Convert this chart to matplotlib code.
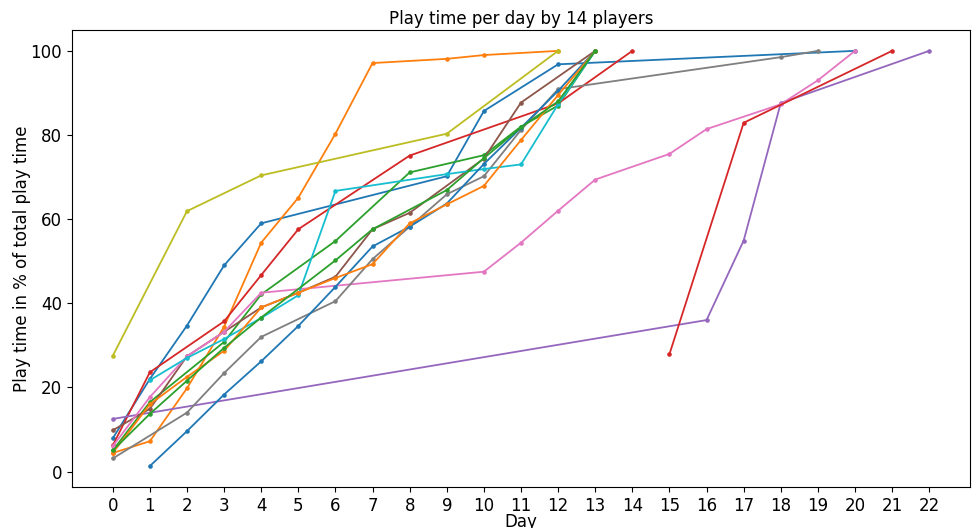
import matplotlib
matplotlib.use("Agg")
import matplotlib.pyplot as plt

# (days, cumulative % of play time) per player, in plotting order
p1_days = [0, 1, 2, 3, 4, 9, 10, 12, 20]
p1_vals = [7.9, 22.0, 34.7, 49.0, 59.0, 70.2, 85.7, 96.8, 100]
p2_days = [0, 1, 2, 3, 4, 5, 6, 7, 9, 10, 12]
p2_vals = [4.4, 7.2, 19.8, 34.4, 54.4, 65.1, 80.3, 97.1, 98.1, 99.0, 100]
p3_days = [0, 1, 3, 4, 6, 8, 10, 11, 12, 13]
p3_vals = [5.0, 16.5, 30.8, 42.1, 54.8, 71.1, 75.2, 82.0, 87.0, 100]
p4_days = [0, 1, 3, 4, 5, 8, 12, 14]
p4_vals = [6.2, 23.6, 35.7, 46.7, 57.6, 75.1, 87.5, 100]
p5_days = [0, 16, 17, 18, 22]
p5_vals = [12.5, 36.0, 54.9, 87.6, 100]
p6_days = [0, 1, 2, 3, 4, 5, 6, 7, 8, 10, 11, 13]
p6_vals = [9.8, 14.9, 27.4, 33.2, 39.0, 42.5, 46.3, 57.6, 61.5, 74.4, 87.7, 100]
p7_days = [0, 1, 2, 3, 4, 10, 11, 12, 13, 15, 16, 18, 19, 20]
p7_vals = [6.0, 17.7, 27.4, 33.2, 42.5, 47.5, 54.4, 62.0, 69.4, 75.5, 81.4, 87.3, 93.0, 100]
p8_days = [0, 2, 3, 4, 6, 7, 8, 9, 10, 11, 12, 18, 19]
p8_vals = [3.1, 14.0, 23.4, 32.0, 40.5, 50.5, 58.2, 65.9, 70.2, 81.2, 90.9, 98.5, 100]
p9_days = [0, 2, 4, 9, 12]
p9_vals = [27.5, 61.9, 70.4, 80.3, 100]
p10_days = [1, 2, 3, 4, 5, 6, 9, 10, 11, 12, 13]
p10_vals = [21.7, 27.0, 31.5, 36.5, 41.9, 66.7, 70.7, 71.9, 73.0, 87.3, 100]
p11_days = [1, 2, 3, 4, 5, 6, 7, 8, 9, 10, 11, 12, 13]
p11_vals = [1.3, 9.6, 18.3, 26.2, 34.6, 43.9, 53.5, 58.2, 63.7, 73.1, 81.7, 90.5, 100]
p12_days = [0, 1, 2, 3, 4, 5, 6, 7, 8, 9, 10, 11, 12, 13]
p12_vals = [4.4, 16.0, 22.5, 28.7, 39.0, 42.5, 46.0, 49.3, 59.0, 63.5, 67.9, 78.8, 89.5, 100]
p13_days = [0, 1, 2, 3, 4, 6, 7, 9, 10, 11, 12, 13]
p13_vals = [5.0, 13.7, 21.6, 29.4, 36.6, 50.2, 57.6, 66.9, 74.5, 81.8, 88.0, 100]
p14_days = [15, 17, 21]
p14_vals = [27.9, 82.9, 100]

players = [
    (p1_days, p1_vals), (p2_days, p2_vals), (p3_days, p3_vals), (p4_days, p4_vals),
    (p5_days, p5_vals), (p6_days, p6_vals), (p7_days, p7_vals), (p8_days, p8_vals),
    (p9_days, p9_vals), (p10_days, p10_vals), (p11_days, p11_vals), (p12_days, p12_vals),
    (p13_days, p13_vals), (p14_days, p14_vals),
]
day_ticks = list(range(0, 23))

fig = plt.figure(figsize=(9.72, 5.28), dpi=100)
ax = fig.add_axes([0.074, 0.078, 0.924, 0.865])
for d, v in players:
    ax.plot(d, v, marker='o', markersize=2.3, linewidth=1.3)

ax.set_xticks(day_ticks)
ax.tick_params(labelsize=12)
ax.set_xlabel("Day", fontsize=12, labelpad=-1)
ax.set_ylabel("Play time in % of total play time", fontsize=12, labelpad=-0.5)
ax.set_title("Play time per day by 14 players", fontsize=12, pad=4.5)
fig.savefig("out.png", dpi=100)
